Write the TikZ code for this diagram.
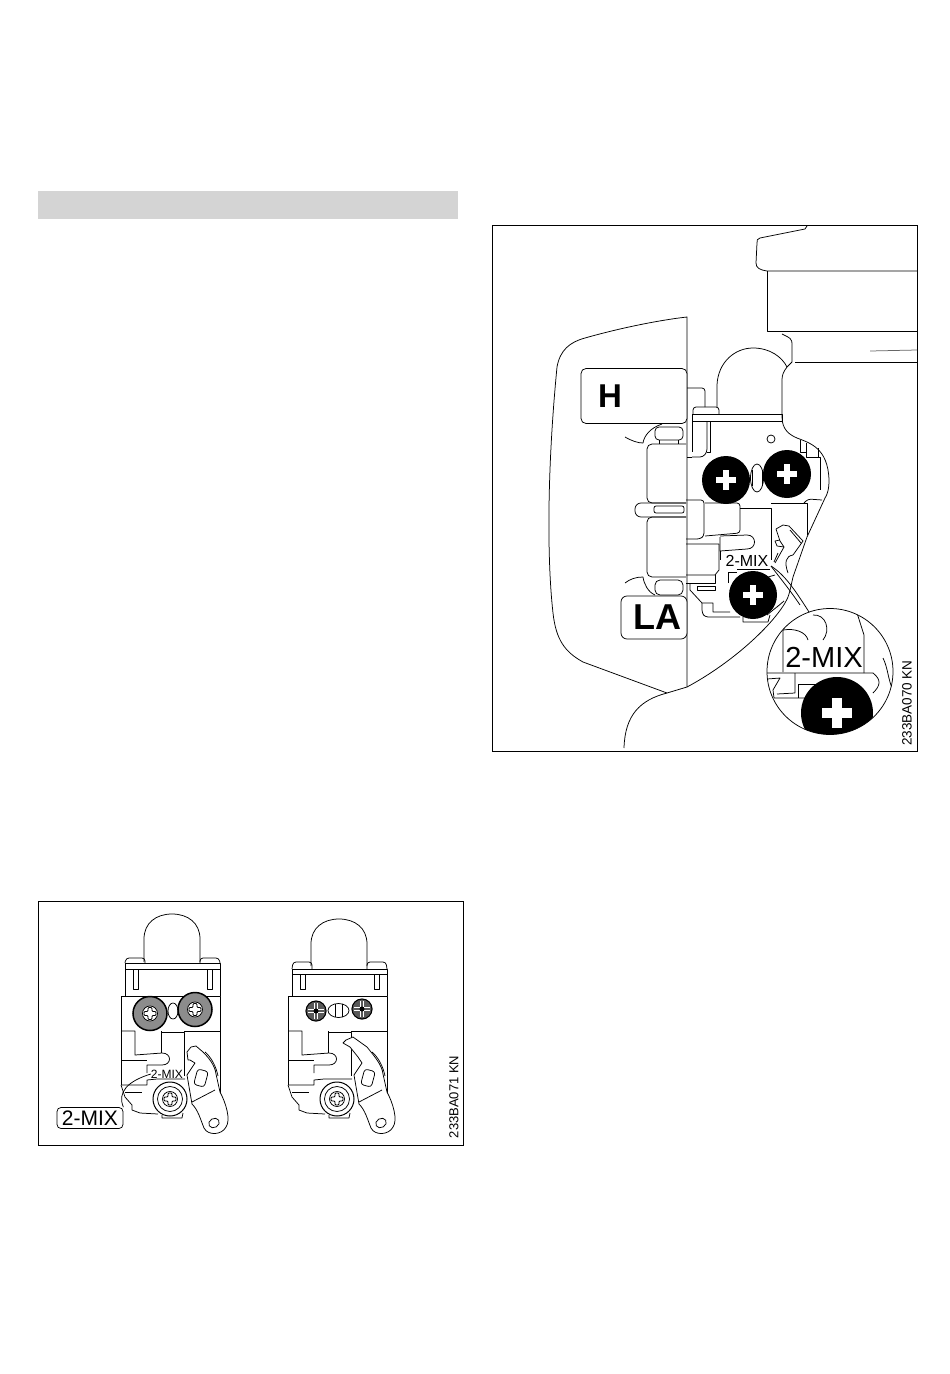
\documentclass[tikz,border=0pt]{standalone}
\usepackage{fontspec}
\setmainfont{Liberation Sans}
\tikzset{
  part/.style={line width=0.75pt,line join=round},
  framebox/.style={line width=0.8pt},
  tag/.style={draw,line width=0.75pt,fill=white,rounded corners=4pt,inner sep=0pt,align=center},
  plain/.style={inner sep=0pt,fill=white}
}
% black screw head with a white cross
\newcommand{\plushead}[4]{
  \fill (#1,#2) circle (#3);
  \fill[white] (#1-#4,#2-0.32*#4) rectangle (#1+#4,#2+0.32*#4);
  \fill[white] (#1-0.32*#4,#2-#4) rectangle (#1+0.32*#4,#2+#4);
}
% small head with an open cross
\newcommand{\crosshead}[2]{
  \draw[part,fill=white] (#1,#2) circle (7.5);
  \draw[part,rounded corners=1pt] (#1-6,#2-2) -- (#1-2,#2-2) -- (#1-2,#2-6) -- (#1+2,#2-6) -- (#1+2,#2-2) -- (#1+6,#2-2) -- (#1+6,#2+2) -- (#1+2,#2+2) -- (#1+2,#2+6) -- (#1-2,#2+6) -- (#1-2,#2+2) -- (#1-6,#2+2) -- cycle;
}
% top of a carburettor: dome top, tab top, bar top, bar bottom
\newcommand{\carbtop}[4]{
  \draw[part] (144,#2+4) -- (144,#1+25) .. controls (144,#1+9) and (156,#1) .. (172,#1) .. controls (188,#1) and (200,#1+9) .. (200,#1+25) -- (200,#2+4);
  \draw[part,rounded corners=3pt] (125,#3) -- (126,#2) -- (145,#2) -- (145,#3);
  \draw[part,rounded corners=3pt] (200,#3) -- (200,#2) -- (219,#2) -- (220,#3);
  \draw[part] (125,#3) rectangle (220,#4);
  \draw[part] (125,#4) -- (125,996) (220,#4) -- (220,996);
  \draw[part] (133,#4) -- (133,989) -- (138,989) -- (138,#4);
  \draw[part] (207,#4) -- (207,989) -- (212,989) -- (212,#4);
}
% lower body of a carburettor
\newcommand{\carbbody}{
  \draw[part] (121,996) -- (220,996) -- (220,1094);
  \draw[part] (121,996) -- (121,1085);
  \draw[part] (121,1031) -- (135,1031) -- (135,1055) -- (162,1053) .. controls (172,1053) and (172,1065) .. (162,1065) -- (147,1065) -- (147,1073);
  \draw[part] (121,1060) -- (147,1060);
  \draw[part] (161,1031) -- (161,1053);
  \draw[part] (161,1032) -- (184,1032) -- (184,1076);
  \draw[part] (184,1031) -- (220,1031);
  \draw[part] (121,1085) -- (147,1085) -- (147,1080) -- (157,1079) -- (185,1079);
  \draw[part] (125,1092) -- (142,1092);
  \draw[part] (121,1085) -- (125,1097) -- (132,1105) -- (132,1110) -- (140,1113) -- (158,1114);
  \draw[part] (162,1115) -- (162,1118) -- (182,1118) -- (183,1113);
}
% lever: first the nose, then the left side of its head
\newcommand{\carblever}[2]{
  \filldraw[part,fill=white] #1 .. controls (208,1057) and (215,1065) .. (216,1074) -- (220,1092) .. controls (226,1103) and (231,1120) .. (226,1127) .. controls (222,1135) and (208,1136) .. (204,1128) .. controls (200,1118) and (198,1110) .. (192,1104) -- (187,1075) -- (195,1063) #2 -- cycle;
  \draw[part] (205,1052) .. controls (211,1057) and (216,1066) .. (218,1076);
  \draw[part] (192,1102) -- (215,1090);
  \draw[part,rounded corners=3pt,rotate around={-15:(201,1078)}] (195.5,1070) rectangle (206.5,1086);
  \draw[part,rotate around={30:(214,1123)}] (214,1123) ellipse (5.5 and 4.5);
}
\begin{document}
\begin{tikzpicture}[x=1pt,y=-1pt]
  \useasboundingbox (0,0) rectangle (950,1374);
  \fill[black!17] (38,191) rectangle (458,219);

  % first figure
  \draw[framebox] (38,901) rectangle (463,1145);
  \carbtop{914}{958}{963}{969}
  \carbbody
  \draw[part,fill=white] (173,1011) ellipse (5 and 8);
  \draw[line width=1.5pt,fill=black!45] (150,1013.5) circle (17);
  \draw[line width=1.5pt,fill=black!45] (195,1009.5) circle (17);
  \crosshead{150}{1013.5}
  \crosshead{195}{1009.5}
  \draw[line width=1pt,fill=white] (170,1099) circle (17);
  \draw[part] (170,1099) circle (12.5);
  \crosshead{170}{1099}
  \carblever{(187,1052) -- (191,1047) -- (196,1046) -- (203,1052)}{-- (190,1060) -- (188,1060)}
  \node[plain] (mixsmall) at (167,1074) {\fontsize{12}{12}\selectfont 2-MIX};
  \node[tag,minimum width=66pt,minimum height=21pt] (mixtag) at (90,1118) {\fontsize{21}{21}\selectfont 2-MIX};
  \draw[part] (mixsmall.west) .. controls (128,1081) and (117,1092) .. (mixtag.north east);

  \begin{scope}[shift={(167,0)}]
    \carbtop{919}{962}{969}{974}
    \carbbody
    \draw[line width=1pt,fill=white] (170,1099) circle (17);
    \draw[part] (170,1099) circle (12.5);
    \crosshead{170}{1099}
    \draw[part] (171.5,1010.5) ellipse (10.5 and 7);
    \draw[part] (168,1004) -- (168,1017) (175,1004) -- (175,1017);
    \foreach \sx/\sy in {149/1011,195/1009}{
      \fill[black!65] (\sx,\sy) circle (10.5);
      \draw[line width=1pt] (\sx,\sy) circle (10);
      \draw[white,line width=0.8pt] (\sx-8,\sy-1.5) -- (\sx+8,\sy-1.5) (\sx-8,\sy+1.5) -- (\sx+8,\sy+1.5) (\sx-1.5,\sy-8) -- (\sx-1.5,\sy+8) (\sx+1.5,\sy-8) -- (\sx+1.5,\sy+8);
      \fill (\sx,\sy) circle (2.5);
    }
    \carblever{(176,1043) -- (179,1040) -- (186,1037) -- (200,1047)}{-- (191,1057) -- (183,1047)}
  \end{scope}
  \node[rotate=90] (codeleft) at (454,1097) {\fontsize{13}{13}\selectfont 233BA071 KN};

  % second figure
  \draw[framebox] (492,225) rectangle (917,751);
  \draw[part] (807,226) -- (805,229) -- (760,238) .. controls (757,239) and (757,240) .. (757,243) -- (756,263) .. controls (756,268) and (760,270) .. (767,271) -- (917,271);
  \draw[part] (767,271) -- (767,331) -- (917,331);
  \draw[part] (795,362) -- (917,362);
  \draw[part,black!60] (870,351) -- (917,350);
  \draw[part] (782,334) .. controls (790,338) and (792,338) .. (792,345) -- (792,362) -- (787,367) .. controls (783,372) and (782,376) .. (782,380) -- (782,417) .. controls (782,430) and (790,435) .. (797,438) .. controls (810,443) and (828,448) .. (829,480) .. controls (829,490) and (827,495) .. (825,498) -- (807,537) -- (793,577) .. controls (790,590) and (789,597) .. (785,603) .. controls (770,628) and (730,664) .. (687,687) -- (667,693) .. controls (640,700) and (625,715) .. (624,748);
  \draw[part] (717,407) -- (717,385) .. controls (718,362) and (735,348) .. (753,348) .. controls (770,348) and (782,357) .. (787,367);

  % handle
  \draw[part] (667,693) -- (583,662) .. controls (565,652) and (556,640) .. (553,613) .. controls (547,560) and (547,470) .. (557,367) .. controls (560,350) and (570,342) .. (585,338) .. controls (620,328) and (660,320) .. (687,317) -- (687,687);
  \node[tag,minimum width=106pt,minimum height=55pt,rounded corners=5pt] (hbox) at (634,396) {};
  \node (hletter) at (610,396) {\fontsize{33}{33}\selectfont\bfseries H};
  \node[tag,minimum width=66pt,minimum height=43pt,rounded corners=6pt] (labox) at (654,617.5) {};
  \node (laletter) at (657,617) {\fontsize{36}{36}\selectfont\bfseries LA};

  % carburettor, upper part
  \draw[part,rounded corners=3pt] (687,388) -- (705,388) -- (705,407);
  \draw[part,rounded corners=3pt] (693,414) -- (693,407) -- (719,407) -- (719,414);
  \draw[part] (692,414) rectangle (782,421);
  \draw[part] (692,421) -- (692,452);
  \draw[part,rounded corners=3pt] (692,457) -- (703,457) -- (707,452) -- (707,421);
  \draw[part] (687,457) -- (692,457);
  \draw[part] (710,421) -- (710,452) -- (707,452);
  \draw[part] (771,439) circle (4);
  \draw[part] (800,440) -- (800,452) -- (806,452) (806,443) -- (806,457) -- (820,457) -- (820,490) (818,448) -- (818,457);
  \draw[part,rounded corners=4pt] (655,427) rectangle (683,440);
  \draw[part] (625,437) .. controls (632,441) and (638,443) .. (643,443) .. controls (644,436) and (650,428) .. (662,424);
  \draw[part,rounded corners=5pt] (686,444) -- (647,444) -- (647,503) -- (686,503);
  \draw[part] (659,440) -- (659,444) (678,440) -- (678,444);
  \draw[part,rounded corners=6pt] (686,503) -- (635,503) -- (635,517) -- (686,517);
  \draw[part,rounded corners=2pt] (654,506) rectangle (684,513);
  \draw[part,rounded corners=5pt] (686,517) -- (647,517) -- (647,577) -- (686,577);
  \draw[part,rounded corners=5pt] (655,580) rectangle (683,595);
  \draw[part] (625,583) .. controls (630,579) and (636,577) .. (643,577) .. controls (644,584) and (648,592) .. (655,595);
  \draw[part,fill=white] (757,478) ellipse (6.5 and 14);
  \draw[part] (752,470) -- (752,486) (762,470) -- (762,486);
  \plushead{726}{480}{24}{10}
  \plushead{787}{474}{24}{10}

  % carburettor, lower part
  \draw[part,rounded corners=3pt] (686,500) -- (704,500) -- (704,536) -- (700,539) -- (686,539);
  \draw[part,rounded corners=3pt] (705,503) -- (740,503) -- (740,533) -- (705,536);
  \draw[part] (720,536) -- (747,535) .. controls (757,535) and (757,549) .. (747,549) -- (720,551) -- (720,537);
  \draw[part] (720,551) -- (720,560);
  \draw[part] (740,508) -- (771,508) -- (771,560);
  \draw[part] (771,503) -- (807,503) -- (807,535);
  \draw[part,rounded corners=3pt] (804,503) -- (808,499) -- (822,500);
  \draw[part] (686,544) -- (719,544) -- (719,570) -- (715,575) -- (686,575);
  \draw[part] (686,583) -- (715,583) -- (715,575);
  \draw[part] (728,583) -- (728,572) -- (737,572);
  \draw[part] (737,569) -- (770,569);
  \draw[part] (690,584) -- (690,590) -- (702,603) -- (713,603) -- (713,612) -- (730,612);
  \draw[part,rounded corners=3pt] (702,603) -- (702,613) -- (705,617) -- (740,617);
  \draw[part] (697,586) rectangle (715,590);
  \draw[part] (743,617) -- (743,622) -- (768,622) -- (770,615);
  \draw[part] (776,529) -- (783,525) -- (789,526) -- (803,541) -- (793,555);
  \draw[part] (790,530) -- (801,543);
  \draw[part] (776,529) -- (780,541) -- (784,547) -- (775,563);
  \draw[part] (780,540) -- (775,541) -- (777,546) -- (784,547);
  \draw[part] (778,553) -- (774,562);
  \draw[part] (793,555) .. controls (786,556) and (784,562) .. (788,573);
  \draw[part] (784,601) -- (777,607) (767,615) -- (778,606) (768,577) -- (775,575);
  \plushead{753}{595}{24}{10}
  \node[plain] (mixnear) at (747,561) {\fontsize{16}{16}\selectfont 2-MIX};
  \coordinate (mixend) at (771,566);

  % magnifier
  \coordinate (lenscentre) at (830,671.5);
  \draw[part] (lenscentre) circle (63);
  \coordinate (lensa) at (800,605);
  \coordinate (lensb) at (809,612);
  \draw[part] (mixend) .. controls (785,575) and (795,590) .. (lensb);
  \draw[part] (mixend) .. controls (780,578) and (790,590) .. (lensa);
  \begin{scope}
    \clip (lenscentre) circle (63);
    \draw[part] (783,672) -- (783,630) .. controls (795,628) and (806,632) .. (808,640);
    \draw[part] (813,615) .. controls (826,614) and (831,630) .. (823,640);
    \draw[part] (857,613) -- (864,635) -- (864,673);
    \draw[part] (767,673) -- (873,673) .. controls (882,680) and (880,686) .. (873,693);
    \draw[part] (883,658) .. controls (888,668) and (888,680) .. (893,690);
    \draw[part] (795,673) -- (795,693) -- (777,694);
    \draw[part] (767,679) -- (780,678) -- (773,690) -- (774,698) -- (810,698);
    \draw[part] (798,698) -- (798,684) -- (830,684);
    \plushead{837}{713}{36}{15}
  \end{scope}
  \node (mixlens) at (824,657) {\fontsize{29}{29}\selectfont 2-MIX};
  \node[rotate=90] (coderight) at (907,703) {\fontsize{13.5}{13.5}\selectfont 233BA070 KN};
\end{tikzpicture}
\end{document}
